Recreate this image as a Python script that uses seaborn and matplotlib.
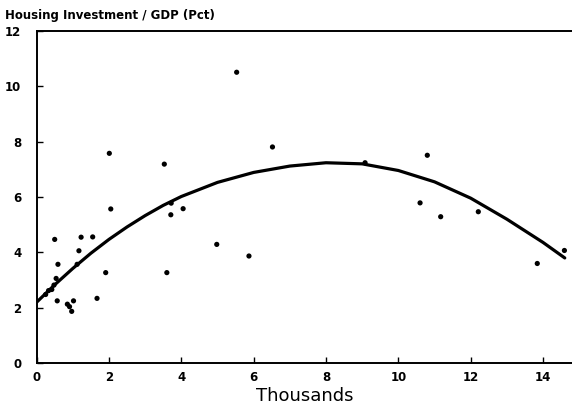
import pandas as pd
import matplotlib.pyplot as plt
import seaborn as sns

# --- data (x in thousands, y in pct) ---
income = [0.25, 0.33, 0.42, 0.48, 0.50, 0.54, 0.57, 0.59, 0.85, 0.91, 0.97, 1.02,
          1.12, 1.17, 1.23, 1.55, 1.67, 1.91, 2.01, 2.05, 3.53, 3.60, 3.71, 3.72,
          4.05, 4.98, 5.53, 5.87, 6.52, 9.08, 10.60, 10.80, 11.17, 12.21, 13.84, 14.59]
housing = [2.48, 2.62, 2.66, 2.82, 4.47, 3.06, 2.25, 3.57, 2.13, 2.04, 1.87, 2.25,
           3.57, 4.06, 4.55, 4.56, 2.34, 3.27, 7.58, 5.57, 7.19, 3.27, 5.36, 5.78,
           5.58, 4.29, 10.51, 3.87, 7.81, 7.24, 5.79, 7.51, 5.29, 5.47, 3.60, 4.07]

# fitted curve as drawn in the original
curve_x = [0, 0.5, 1, 1.5, 2, 2.5, 3, 3.5, 4, 5, 6, 7, 8, 9, 10, 11, 12, 13, 14, 14.6]
curve_y = [2.2, 2.83, 3.42, 3.97, 4.47, 4.92, 5.33, 5.7, 6.02, 6.53, 6.89, 7.12,
           7.24, 7.2, 6.96, 6.55, 5.96, 5.2, 4.36, 3.8]

df = pd.DataFrame({"income": income, "housing": housing})
fit = pd.DataFrame({"income": curve_x, "housing": curve_y})

sns.set_style("ticks")
plt.rcParams["font.family"] = ["Liberation Sans Narrow", "DejaVu Sans"]
plt.rcParams["font.weight"] = "bold"
plt.rcParams["text.color"] = "black"
plt.rcParams["axes.labelcolor"] = "black"

fig = plt.figure(figsize=(5.72, 4.08), dpi=100)
ax = fig.add_axes([0.064, 0.110, 0.936, 0.814])

sns.scatterplot(data=df, x="income", y="housing", ax=ax, color="black",
                marker="o", s=14, edgecolor="none")
sns.lineplot(data=fit, x="income", y="housing", ax=ax, color="black", linewidth=2.3)

ax.set_xlim(0, 14.8)
ax.set_ylim(0, 12)
ax.set_xticks(range(0, 15, 2))
ax.set_yticks(range(0, 13, 2))
ax.tick_params(direction="in", length=4, width=1, labelsize=8.5, colors="black")
ax.tick_params(axis="y", pad=11)
ax.tick_params(axis="x", pad=6)
for s in ["left", "bottom", "top"]:
    ax.spines[s].set_linewidth(1.4)
    ax.spines[s].set_color("black")
ax.spines["right"].set_visible(False)

ax.set_ylabel("")
ax.set_xlabel("Thousands", fontsize=13, fontweight="normal", labelpad=2)
fig.text(0.009, 0.962, "Housing Investment / GDP (Pct)", fontsize=8.5,
         fontweight="bold", ha="left", va="center")

fig.savefig("out.png", dpi=100)
